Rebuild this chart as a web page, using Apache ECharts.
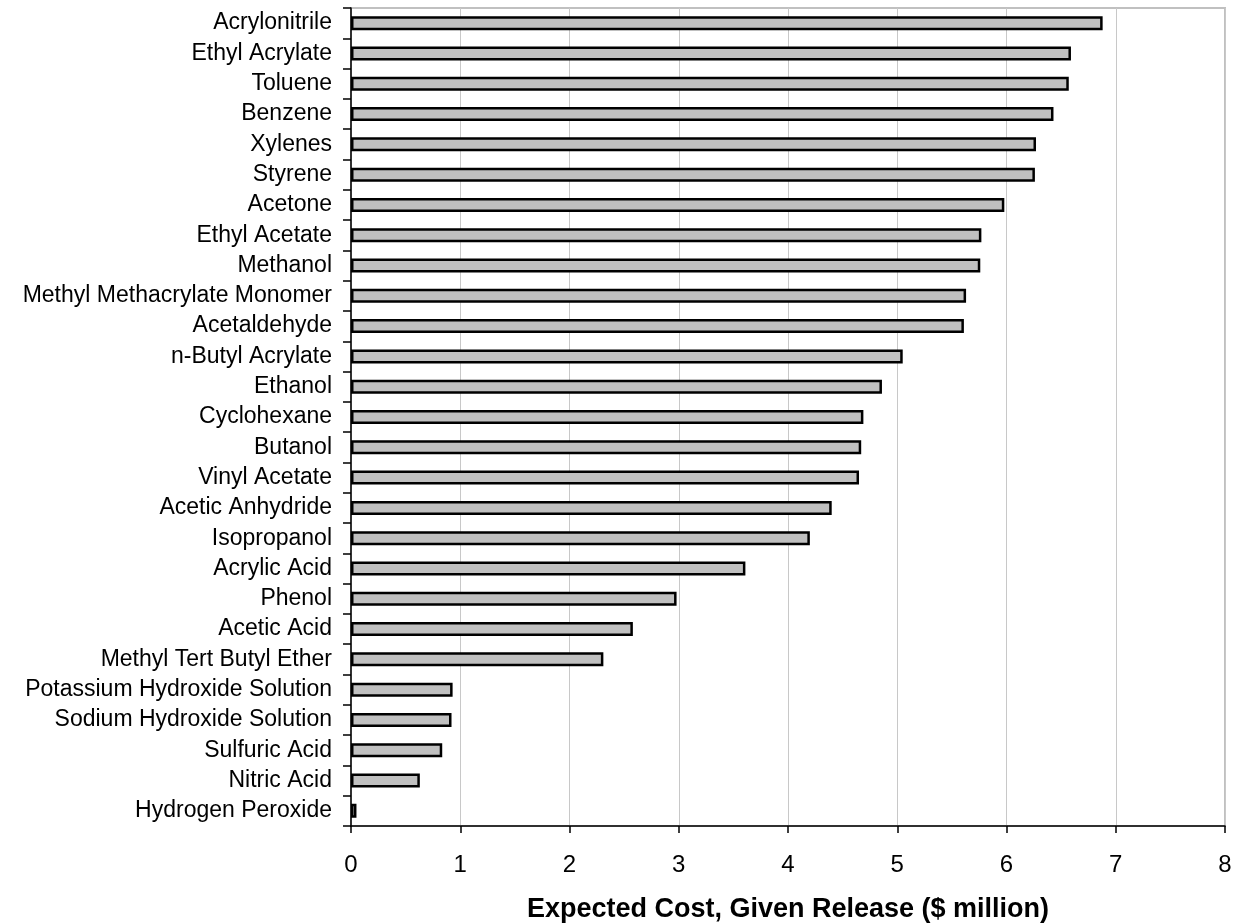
<!DOCTYPE html>
<html>
<head>
<meta charset="utf-8">
<script src="https://cdn.jsdelivr.net/npm/echarts@6/dist/echarts.min.js"></script>
<style>
html,body{margin:0;padding:0;background:#fff;}
#chart{width:1240px;height:924px;}
</style>
</head>
<body>
<div id="chart"></div>
<script>
const categories = [
  "Acrylonitrile", "Ethyl Acrylate", "Toluene", "Benzene", "Xylenes", "Styrene",
  "Acetone", "Ethyl Acetate", "Methanol", "Methyl Methacrylate Monomer", "Acetaldehyde",
  "n-Butyl Acrylate", "Ethanol", "Cyclohexane", "Butanol", "Vinyl Acetate",
  "Acetic Anhydride", "Isopropanol", "Acrylic Acid", "Phenol", "Acetic Acid",
  "Methyl Tert Butyl Ether", "Potassium Hydroxide Solution", "Sodium Hydroxide Solution",
  "Sulfuric Acid", "Nitric Acid", "Hydrogen Peroxide"
];
const expectedCost = [
  6.88, 6.59, 6.57, 6.43, 6.27, 6.26,
  5.98, 5.77, 5.76, 5.63, 5.61,
  5.05, 4.86, 4.69, 4.67, 4.65,
  4.40, 4.20, 3.61, 2.98, 2.58,
  2.31, 0.93, 0.92,
  0.835, 0.63, 0.05
];
const xTicks = { min: 0, max: 8, interval: 1 };
const axisTitle = "Expected Cost, Given Release ($ million)";

const chart = echarts.init(document.getElementById('chart'), null, { renderer: 'canvas' });
chart.setOption({
  animation: false,
  backgroundColor: '#ffffff',
  grid: {
    left: 351, right: 15, top: 8, bottom: 98,
    outerBoundsMode: 'none',
    containLabel: false,
    show: true, borderColor: '#c0c0c0', borderWidth: 2, backgroundColor: 'transparent'
  },
  xAxis: {
    type: 'value',
    min: xTicks.min, max: xTicks.max, interval: xTicks.interval,
    name: axisTitle,
    nameLocation: 'middle',
    nameGap: 70,
    nameTextStyle: { fontFamily: 'Liberation Sans, Arial, sans-serif', fontSize: 27, fontWeight: 'bold', color: '#000' },
    axisLine: { show: true, lineStyle: { color: '#000', width: 1.5 } },
    axisTick: { show: true, length: 7, lineStyle: { color: '#000', width: 1.5 } },
    axisLabel: { fontFamily: 'Liberation Sans, Arial, sans-serif', fontSize: 24, color: '#000', margin: 27 },
    splitLine: { show: true, lineStyle: { color: '#c8c8c8', width: 1 } }
  },
  yAxis: {
    type: 'category',
    data: categories,
    inverse: true,
    axisLine: { show: true, lineStyle: { color: '#000', width: 1.5 } },
    axisTick: { show: true, length: 8, alignWithLabel: false, lineStyle: { color: '#000', width: 1.5 } },
    axisLabel: { fontFamily: 'Liberation Sans, Arial, sans-serif', fontSize: 23, color: '#000', margin: 19 },
    splitLine: { show: false }
  },
  series: [{
    type: 'bar',
    data: expectedCost,
    barWidth: 14,
    itemStyle: { color: '#c0c0c0', borderColor: '#000', borderWidth: 2.5 }
  }]
});
</script>
</body>
</html>
